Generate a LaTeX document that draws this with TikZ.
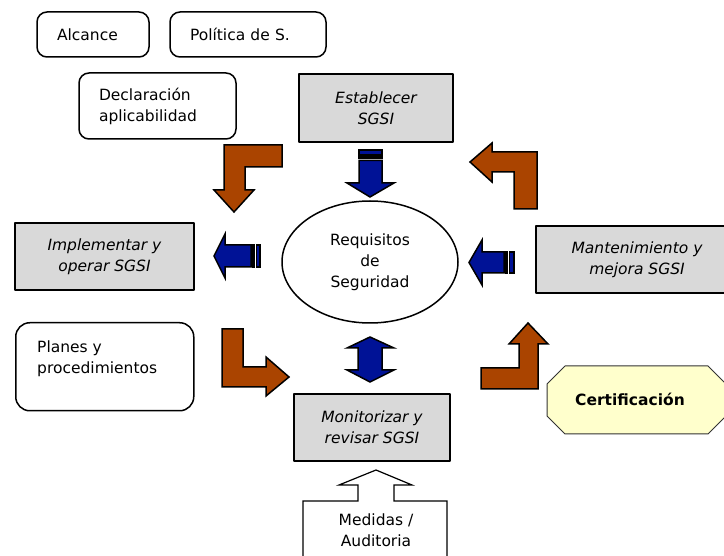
\documentclass[tikz,border=0pt]{standalone}
\usepackage{fontspec}
\setmainfont{DejaVu Sans}
\usetikzlibrary{shapes.geometric}
\definecolor{boxgray}{RGB}{217,217,217}
\definecolor{brickorange}{RGB}{170,68,0}
\definecolor{navyblue}{RGB}{0,18,150}
\definecolor{certyellow}{RGB}{255,255,204}
\newcommand\diagfont{\fontsize{15.5}{21}\selectfont}
\begin{document}
\begin{tikzpicture}[x=1pt, y=-1pt, line join=round, font=\diagfont]
	\tikzset{softbox/.style={draw, line width=1.5, rounded corners=10, align=left, inner xsep=20, inner ysep=0},
		graybox/.style={draw, line width=1.8, fill=boxgray, align=center, inner sep=0, font=\diagfont\itshape},
		orangearrow/.style={draw, line width=1.5, fill=brickorange, line join=miter},
		bluearrow/.style={draw, line width=1.5, fill=navyblue, line join=miter}}
	\useasboundingbox (0,0) rectangle (724,556);
	\clip (0,0) rectangle (724,556);
	% documentos
	\node[softbox, text width=72, minimum height=45] (alcance) at (93,34.5) {Alcance};
	\node[softbox, text width=116, minimum height=45] (politica) at (248,34.5) {Política de S.};
	\node[softbox, text width=117, minimum height=66] (declaracion) at (157.5,106) {Declaración\\aplicabilidad};
	\node[softbox, minimum width=178, minimum height=88, rounded corners=14, anchor=north west] (planes) at (15,322) {};
	\node[anchor=north west, align=left, inner sep=0] (planestxt) at (37,341) {Planes y\\procedimientos};
	% fases
	\node[graybox, minimum width=154, minimum height=68] (establecer) at (376,108) {Establecer\\SGSI};
	\node[graybox, minimum width=179, minimum height=67] (implementar) at (104.5,256.5) {Implementar y\\operar SGSI};
	\node[graybox, minimum width=156, minimum height=67] (monitorizar) at (372,427.5) {Monitorizar y\\revisar SGSI};
	\node[graybox, minimum width=202, minimum height=67] (mantenimiento) at (637,259.5) {Mantenimiento y\\mejora SGSI};
	\node[ellipse, draw, line width=1.5, minimum width=176, minimum height=122, align=center, inner sep=0] (requisitos) at (370,262) {Requisitos\\de\\Seguridad};
	% ciclo
	\draw[orangearrow] (224,145) -- (282,145) -- (282,167) -- (245,167) -- (245,190) -- (254,190) -- (234,212) -- (214,190) -- (224,190) -- cycle;
	\draw[orangearrow] (222,329) -- (243,329) -- (243,367) -- (266,367) -- (266,357) -- (289,377) -- (266,396) -- (266,387) -- (222,387) -- cycle;
	\draw[orangearrow] (481,368) -- (519,368) -- (519,344) -- (509,344) -- (528,323) -- (548,344) -- (538,344) -- (538,389) -- (481,389) -- cycle;
	\draw[orangearrow] (470,162) -- (492,143) -- (492,152) -- (537,152) -- (537,209) -- (514,209) -- (514,172) -- (492,172) -- (492,182) -- cycle;
	% requisitos
	\draw[bluearrow] (370,197) -- (347,183) -- (359,183) -- (359,160.5) -- (382,160.5) -- (382,183) -- (394,183) -- cycle;
	\draw[bluearrow] (359,157) rectangle (382,158.5) (359,150) rectangle (382,155);
	\draw[bluearrow] (214,256) -- (225,234) -- (225,245) -- (251,245) -- (251,267) -- (225,267) -- (225,278) -- cycle;
	\draw[bluearrow] (253,245) rectangle (254.5,267) (256.5,245) rectangle (260,267);
	\draw[bluearrow] (469,262.5) -- (482,240) -- (482,252) -- (504,252) -- (504,273) -- (482,273) -- (482,285) -- cycle;
	\draw[bluearrow] (506,252) rectangle (507.5,273) (509.5,252) rectangle (514,273);
	\draw[bluearrow] (370,337) -- (394,348) -- (382,348) -- (382,370) -- (394,370) -- (370,382) -- (347,370) -- (358,370) -- (358,348) -- (347,348) -- cycle;
	% medidas y certificacion
	\draw[line width=1.2, fill=white, line join=miter] (376,470) -- (412,485) -- (394,485) -- (394,501) -- (447,501) -- (447,570) -- (303,570) -- (303,501) -- (358,501) -- (358,485) -- (339,485) -- cycle;
	\node[align=center, inner sep=0] (medidas) at (376,530) {Medidas /\\Auditoria};
	\draw[line width=1, draw=black!80, fill=certyellow] (547,384) -- (565,366) -- (708,366) -- (726,384) -- (726,416) -- (708,434) -- (565,434) -- (547,416) -- cycle;
	\node[font=\diagfont\bfseries, inner sep=0] (certificacion) at (630,399) {Certificación};
\end{tikzpicture}
\end{document}
